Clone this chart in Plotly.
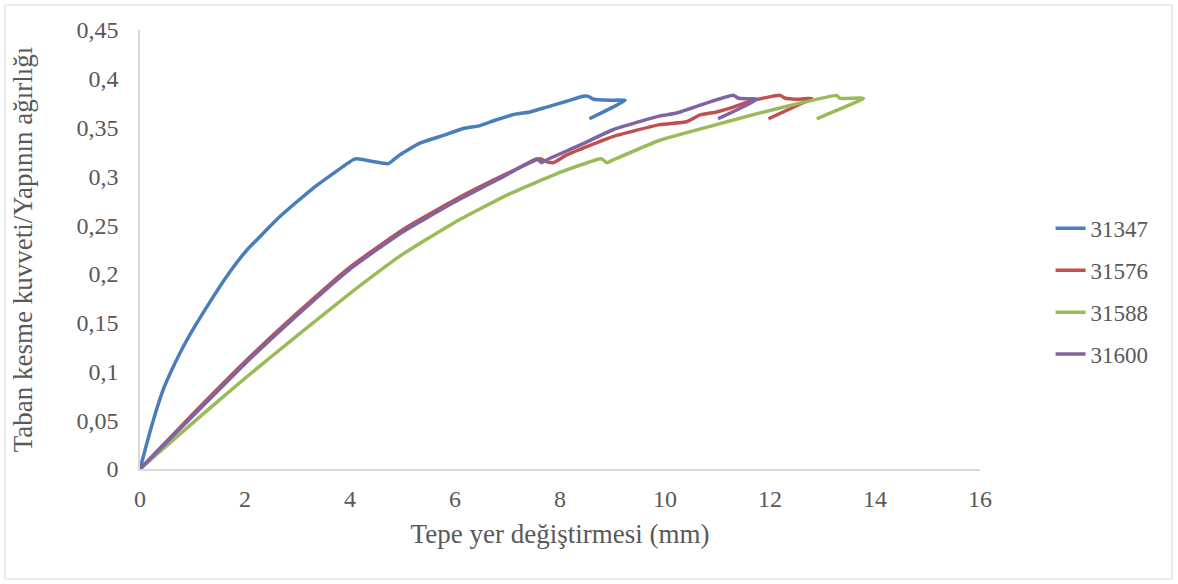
import plotly.graph_objects as go

# Roof displacement (mm) vs. base shear / structure weight
x_31347 = [0, 0.2, 0.44, 0.6, 0.89, 1.27, 1.71, 2.03, 2.67, 3.30, 4.06, 4.13, 4.73, 4.83,
           4.95, 5.33, 5.78, 6.16, 6.48, 6.79, 7.17, 7.43, 7.75, 8.13, 8.44, 8.54, 8.64,
           8.95, 9.24, 8.56]
y_31347 = [0, 0.040, 0.081, 0.101, 0.132, 0.166, 0.202, 0.224, 0.259, 0.288, 0.317, 0.318,
           0.313, 0.317, 0.322, 0.334, 0.342, 0.349, 0.352, 0.358, 0.364, 0.366, 0.371,
           0.377, 0.382, 0.382, 0.379, 0.378, 0.378, 0.359]

x_31576 = [0, 1, 2, 3, 4, 5, 6, 7, 7.62, 7.75, 7.87, 8.13, 9.02, 9.90, 10.41, 10.67, 10.98,
           11.30, 11.68, 12.19, 12.29, 12.57, 12.79, 11.97]
y_31576 = [0, 0.056, 0.110, 0.160, 0.207, 0.245, 0.276, 0.303, 0.318, 0.315, 0.314, 0.322,
           0.341, 0.353, 0.356, 0.363, 0.366, 0.371, 0.378, 0.383, 0.380, 0.379, 0.380, 0.359]

x_31588 = [0, 1, 2, 3, 4, 5, 6, 7, 8, 8.79, 8.89, 9.02, 9.90, 10.98, 11.81, 12.57, 13.27,
           13.33, 13.78, 12.89]
y_31588 = [0, 0.047, 0.093, 0.137, 0.180, 0.220, 0.253, 0.281, 0.304, 0.318, 0.314, 0.317,
           0.337, 0.353, 0.365, 0.375, 0.383, 0.380, 0.380, 0.359]

x_31600 = [0, 1, 2, 3, 4, 5, 6, 7, 7.56, 7.65, 7.75, 8.38, 9.02, 9.90, 10.03, 10.29, 10.67,
           11.30, 11.40, 11.75, 11.01]
y_31600 = [0, 0.054, 0.108, 0.158, 0.205, 0.243, 0.274, 0.302, 0.318, 0.314, 0.317, 0.332,
           0.348, 0.362, 0.363, 0.366, 0.373, 0.383, 0.380, 0.379, 0.359]

series = [
    ("31347", x_31347, y_31347, "#4A7EBB"),
    ("31576", x_31576, y_31576, "#C0504D"),
    ("31588", x_31588, y_31588, "#9BBB59"),
    ("31600", x_31600, y_31600, "#8064A2"),
]

x_ticks = [0, 2, 4, 6, 8, 10, 12, 14, 16]
y_ticks = [0, 0.05, 0.1, 0.15, 0.2, 0.25, 0.3, 0.35, 0.4, 0.45]
y_tick_text = ["0", "0,05", "0,1", "0,15", "0,2", "0,25", "0,3", "0,35", "0,4", "0,45"]

fig = go.Figure()
for name, xs, ys, color in series:
    fig.add_trace(go.Scatter(
        x=xs, y=ys, mode="lines", name=name, legendgroup=name,
        line=dict(color=color, width=3.5, shape="spline", smoothing=0.4),
    ))

font_family = "Liberation Serif"
text_color = "#595959"

fig.update_layout(
    width=1178, height=584,
    margin=dict(l=140, r=198, t=30, b=115),
    paper_bgcolor="white", plot_bgcolor="white",
    font=dict(family=font_family, color=text_color, size=23),
    showlegend=True,
    legend=dict(
        x=1.084, xanchor="left", y=0.597, yanchor="top",
        font=dict(size=23, color=text_color, family=font_family),
        tracegroupgap=9, bgcolor="rgba(0,0,0,0)",
    ),
    xaxis=dict(
        range=[0, 16], tickvals=x_ticks, ticktext=[str(v) for v in x_ticks],
        showgrid=False, zeroline=False, showline=True, linecolor="#D9D9D9", linewidth=1.5,
        ticks="", ticklabelstandoff=7, automargin=False,
        tickfont=dict(size=24, family=font_family, color=text_color),
        title=dict(text="Tepe yer değiştirmesi (mm)", standoff=14,
                   font=dict(size=27, family=font_family, color=text_color)),
    ),
    yaxis=dict(
        range=[0, 0.45], tickvals=y_ticks, ticktext=y_tick_text,
        showgrid=False, zeroline=False, showline=True, linecolor="#D9D9D9", linewidth=1.5,
        ticks="", ticklabelstandoff=15, automargin=False,
        tickfont=dict(size=24, family=font_family, color=text_color),
        title=dict(text="Taban kesme kuvveti/Yapının ağırlığı", standoff=36,
                   font=dict(size=27, family=font_family, color=text_color)),
    ),
    shapes=[dict(
        type="rect", xref="paper", yref="paper",
        x0=-135 / 840, x1=1032 / 840, y0=-110 / 439, y1=464 / 439,
        line=dict(color="#D9D9D9", width=1), fillcolor="rgba(0,0,0,0)", layer="below",
    )],
)

fig.write_html("out.html")
